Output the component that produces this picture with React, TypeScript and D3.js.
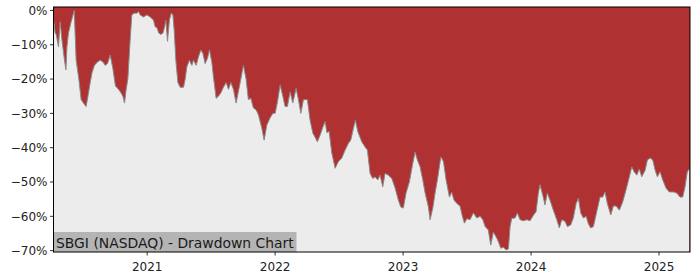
import React from "react";
import * as d3 from "d3";

// Decimal-year dates
const dates: number[] = [
  2020.270, 2020.281, 2020.289, 2020.307, 2020.320, 2020.334, 2020.352, 2020.365, 2020.373, 2020.385,
  2020.404, 2020.430, 2020.445, 2020.466, 2020.484, 2020.502, 2020.523, 2020.537, 2020.555, 2020.570,
  2020.588, 2020.612, 2020.633, 2020.654, 2020.672, 2020.690, 2020.711, 2020.732, 2020.752, 2020.776,
  2020.795, 2020.810, 2020.823, 2020.836, 2020.849, 2020.867, 2020.880, 2020.898, 2020.920, 2020.932,
  2020.945, 2020.971, 2020.998, 2021.023, 2021.049, 2021.063, 2021.076, 2021.091, 2021.107, 2021.123,
  2021.135, 2021.146, 2021.159, 2021.174, 2021.188, 2021.201, 2021.211, 2021.224, 2021.240, 2021.258,
  2021.284, 2021.297, 2021.310, 2021.330, 2021.349, 2021.362, 2021.383, 2021.401, 2021.420, 2021.435,
  2021.453, 2021.471, 2021.487, 2021.505, 2021.518, 2021.539, 2021.557, 2021.576, 2021.596, 2021.617,
  2021.635, 2021.654, 2021.674, 2021.695, 2021.711, 2021.732, 2021.752, 2021.773, 2021.791, 2021.810,
  2021.830, 2021.852, 2021.870, 2021.896, 2021.914, 2021.935, 2021.961, 2021.982, 2022.000, 2022.018,
  2022.039, 2022.060, 2022.078, 2022.096, 2022.117, 2022.138, 2022.164, 2022.182, 2022.201, 2022.221,
  2022.252, 2022.273, 2022.295, 2022.313, 2022.330, 2022.352, 2022.373, 2022.391, 2022.404, 2022.422,
  2022.443, 2022.469, 2022.495, 2022.521, 2022.547, 2022.573, 2022.591, 2022.612, 2022.627, 2022.646,
  2022.677, 2022.703, 2022.721, 2022.742, 2022.763, 2022.781, 2022.802, 2022.820, 2022.841, 2022.859,
  2022.885, 2022.912, 2022.938, 2022.963, 2022.982, 2023.002, 2023.023, 2023.049, 2023.076, 2023.094,
  2023.112, 2023.133, 2023.154, 2023.172, 2023.198, 2023.211, 2023.232, 2023.250, 2023.268, 2023.295,
  2023.315, 2023.336, 2023.362, 2023.380, 2023.398, 2023.424, 2023.445, 2023.463, 2023.479, 2023.498,
  2023.523, 2023.549, 2023.576, 2023.602, 2023.623, 2023.641, 2023.666, 2023.685, 2023.705, 2023.727,
  2023.745, 2023.763, 2023.784, 2023.805, 2023.823, 2023.836, 2023.849, 2023.875, 2023.893, 2023.914,
  2023.940, 2023.966, 2023.992, 2024.018, 2024.039, 2024.057, 2024.070, 2024.091, 2024.109, 2024.127,
  2024.148, 2024.174, 2024.201, 2024.221, 2024.240, 2024.266, 2024.284, 2024.310, 2024.330, 2024.352,
  2024.370, 2024.388, 2024.409, 2024.430, 2024.448, 2024.466, 2024.487, 2024.513, 2024.539, 2024.560,
  2024.578, 2024.596, 2024.623, 2024.643, 2024.664, 2024.690, 2024.716, 2024.742, 2024.768, 2024.787,
  2024.805, 2024.826, 2024.846, 2024.865, 2024.891, 2024.909, 2024.930, 2024.951, 2024.969, 2024.987,
  2025.008, 2025.029, 2025.055, 2025.080, 2025.112, 2025.138, 2025.164, 2025.185, 2025.203, 2025.221,
  2025.237,
];

// Drawdown in percent
const drawdown: number[] = [
  -3, -6.6, -7, -10.6, -3.3, -8.6, -14, -17.3, -10.6, -6.6,
  -3.6, 0, -14.5, -20, -26, -27, -28, -25, -21, -18,
  -16, -15, -14.5, -15, -16, -15.5, -13, -17, -22, -23,
  -24, -25, -27, -23, -20, -8.6, -1.3, -0.8, -0.8, -0.3,
  -1.3, -1.9, -1.3, -1.9, -2.8, -4.8, -5, -6.6, -7, -6.6,
  -5, -2.8, -9, -2.8, -0.8, -1.3, -5.7, -14.5, -21, -22.4,
  -22.4, -20, -16.4, -14.5, -16, -14.5, -16, -13.5, -11.5, -12.5,
  -15.5, -14, -11.5, -15, -19.4, -25.6, -25, -24, -22.4, -21,
  -23, -21, -23, -27, -24, -20, -16, -20, -26, -25.6,
  -28.4, -29, -30.5, -34.3, -37.8, -33.4, -31.3, -30, -30, -26.7,
  -21.7, -25, -28, -28, -23.7, -27, -22.7, -26, -30, -26,
  -26, -32, -35.8, -37, -38.3, -36.3, -34, -32.4, -35.6, -35.3,
  -41.6, -46, -44, -43, -40.7, -38.7, -37.8, -34.3, -32, -35.3,
  -38.3, -39.8, -40.7, -47.5, -49, -48.5, -49.4, -48, -51.4, -47.5,
  -48, -49, -51.8, -55.3, -57.3, -57.6, -53.2, -50, -44.5, -41.3,
  -43.6, -45.6, -49.4, -53.2, -57.3, -61, -57.6, -53.2, -49.4, -42.7,
  -44, -49.4, -54.4, -53, -55.3, -56.4, -57, -60, -62, -60.7,
  -61, -59, -60.5, -60, -61, -63, -64, -68.4, -64.6, -66,
  -67.4, -69.3, -69, -69.8, -69.5, -63, -60.6, -60.5, -59, -61,
  -61.3, -61, -61.3, -59.7, -58.7, -53.2, -50.8, -53.8, -56.7, -53.2,
  -55.3, -58.2, -61, -63.4, -61, -61.5, -63, -62.5, -60.5, -56.3,
  -54.7, -59, -60.5, -60, -62.2, -63.4, -63, -58.7, -54.4, -54.4,
  -52.9, -56.3, -59.6, -57, -57, -58.2, -55.8, -52.3, -48.5, -45.6,
  -47, -48, -46.2, -48.5, -46.6, -43.6, -43, -43.6, -46.5, -48.5,
  -47, -49.4, -51.8, -52.9, -52.9, -53.2, -54.4, -54.4, -51.4, -47,
  -46.2,
];

const yTicks: number[] = [0, -10, -20, -30, -40, -50, -60, -70];
const xTicks: number[] = [2021, 2022, 2023, 2024, 2025];
const title = "SBGI (NASDAQ) - Drawdown Chart";

const W = 700;
const H = 280;
const L = 53.5;
const R = 690;
const T = 7;
const B = 252;

export default function App() {
  const x = d3.scaleLinear().domain([2020.268, 2025.242]).range([L, R]);
  const y = d3.scaleLinear().domain([-70.4, 1.0]).range([B, T]);
  const pts = dates.map((d, i) => ({ d, v: drawdown[i] }));
  const area = d3
    .area<{ d: number; v: number }>()
    .x((p) => x(p.d))
    .y0(B)
    .y1((p) => y(p.v));
  const line = d3
    .line<{ d: number; v: number }>()
    .x((p) => x(p.d))
    .y((p) => y(p.v));
  const font = "DejaVu Sans, sans-serif";
  return (
    <svg
      width={W}
      height={H}
      style={{ position: "absolute", left: 0, top: 0, background: "#fff" }}
      fontFamily={font}
    >
      <defs>
        <clipPath id="pc">
          <rect x={L} y={T} width={R - L} height={B - T} />
        </clipPath>
      </defs>
      <rect x={L} y={T} width={R - L} height={B - T} fill="#b03131" />
      <g clipPath="url(#pc)">
        <path d={area(pts) || ""} fill="#ececec" />
        <path d={line(pts) || ""} fill="none" stroke="#8a8a8a" strokeWidth={1} />
        <rect x={L} y={232} width={243} height={B - 232} fill="#b4b4b4" />
        <text x={56} y={247.5} fontSize={13.9} fill="#1a1a1a">
          {title}
        </text>
      </g>
      <rect x={L} y={T} width={R - L} height={B - T} fill="none" stroke="#000" strokeWidth={1} />
      {yTicks.map((t) => (
        <g key={t}>
          <line x1={L - 3.5} x2={L} y1={y(t)} y2={y(t)} stroke="#000" strokeWidth={0.8} />
          <text x={L - 6} y={y(t)} dy="0.35em" textAnchor="end" fontSize={12} fill="#222">
            {t === 0 ? "0%" : `\u2212${Math.abs(t)}%`}
          </text>
        </g>
      ))}
      {xTicks.map((t) => (
        <g key={t}>
          <line x1={x(t)} x2={x(t)} y1={B} y2={B + 3.5} stroke="#000" strokeWidth={0.8} />
          <text x={x(t)} y={B + 19} textAnchor="middle" fontSize={12} fill="#222">
            {t}
          </text>
        </g>
      ))}
    </svg>
  );
}
